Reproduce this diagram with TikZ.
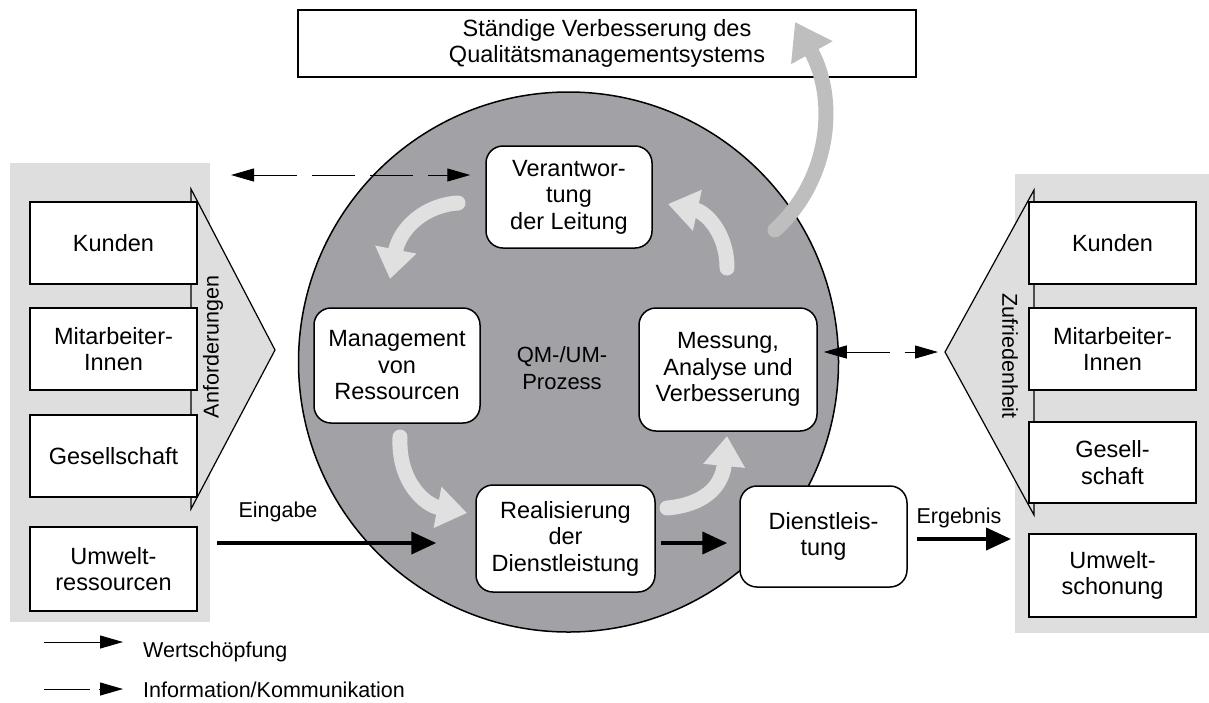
\documentclass[tikz,border=0pt]{standalone}
\usepackage{fontspec}
\setmainfont{Liberation Sans}
\usetikzlibrary{arrows.meta}

\definecolor{panel}{RGB}{222,222,222}
\definecolor{proz}{RGB}{162,161,166}
\definecolor{flowgray}{RGB}{224,224,224}
\definecolor{kvpgray}{RGB}{190,190,190}

\begin{document}
\begin{tikzpicture}[x=1pt,y=-1pt,
    font=\fontsize{21.5}{26}\selectfont,
    lbox/.style={draw,fill=white,line width=1.6pt,minimum width=167pt,minimum height=82pt,align=center,inner sep=0pt,font=\fontsize{23.5}{26.5}\selectfont},
    rbox/.style={draw,fill=white,line width=1.5pt,rounded corners=17pt,align=center,inner sep=0pt,font=\fontsize{23.5}{26.5}\selectfont},
    flow/.style={draw=flowgray,line width=15pt,line cap=round,-{Triangle[length=30pt,width=40pt]}},
    wert/.style={line width=4pt,-{Triangle[length=25pt,width=22pt]}},
    info/.style={line width=1pt,dash pattern=on 43pt off 15pt,{Triangle[length=23pt,width=13pt]}-{Triangle[length=23pt,width=13pt]}}
]
    \useasboundingbox (0,0) rectangle (1209,702);

    % Umfeld links und rechts
    \fill[panel] (10,163) rectangle (210,622);
    \fill[panel] (1015,174) rectangle (1209,633);
    \draw[fill=panel,line width=1.2pt] (191,189) -- (275,350) -- (191,509) -- cycle;
    \draw[fill=panel,line width=1.2pt] (1034,190) -- (945,352) -- (1034,515) -- cycle;
    \coordinate (zufTip) at (945,352);
    \node[rotate=90] (anf) at (213,347) {Anforderungen};
    \node[rotate=-90] (zuf) at (1010,356) {Zufriedenheit};

    \node[lbox] (kundenL) at (113.5,243) {Kunden};
    \node[lbox] (mitarbL) at (113.5,349) {Mitarbeiter-\\Innen};
    \node[lbox] (gesL) at (113.5,456) {Gesellschaft};
    \node[lbox,minimum height=84pt] (umweltL) at (113.5,569) {Umwelt-\\ressourcen};

    \node[lbox] (kundenR) at (1112.5,243) {Kunden};
    \node[lbox] (mitarbR) at (1112.5,349) {Mitarbeiter-\\Innen};
    \node[lbox,minimum height=81pt] (gesR) at (1112.5,462.5) {Gesell-\\schaft};
    \node[lbox,minimum height=83pt] (umweltR) at (1112.5,575.5) {Umwelt-\\schonung};

    % Prozess
    \node[circle,draw,fill=proz,line width=1.5pt,minimum size=540pt,inner sep=0pt] (qm) at (568.5,362) {};
    \node[align=center,font=\fontsize{22}{27}\selectfont] (qmtext) at (562,368) {QM-/UM-\\Prozess};

    \node[lbox,line width=1.5pt,minimum width=618pt,minimum height=67pt,font=\fontsize{23.5}{25.5}\selectfont] (kvp) at (607,43.5) {Ständige Verbesserung des\\Qualitätsmanagementsystems};

    \node[rbox,minimum width=166pt,minimum height=102pt] (verant) at (569,197) {Verantwor-\\tung\\der Leitung};
    \node[rbox,minimum width=166pt,minimum height=115pt] (mgmt) at (397,365.5) {Management\\von\\Ressourcen};
    \node[rbox,minimum width=178pt,minimum height=123pt] (mess) at (728,369.5) {Messung,\\Analyse und\\Verbesserung};
    \node[rbox,minimum width=179pt,minimum height=107pt] (real) at (565.5,538.5) {Realisierung\\der\\Dienstleistung};
    \node[rbox,minimum width=167pt,minimum height=101pt] (dienst) at (823.5,536.5) {Dienstleis-\\tung};

    % Kreislauf
    \draw[flow] (458,203) .. controls (425,205) and (400,228) .. (390,279);
    \draw[flow] (400,437) .. controls (398,482) and (425,505) .. (467,513);
    \draw[flow] (667,508) .. controls (702,505) and (722,488) .. (727,436);
    \draw[flow] (727,268) .. controls (727,232) and (705,212) .. (668,204);
    \draw[flow,draw=kvpgray,-{Triangle[length=35pt,width=45pt]}] (775,230) .. controls (830,180) and (838,100) .. (795,22);

    % Wertschoepfung
    \coordinate (ein) at (217,543);
    \draw[wert,shorten >=39pt] (ein) -- (real.west |- ein);
    \node (eing) at (278,512) {Eingabe};
    \draw[wert,shorten <=5pt,shorten >=12pt] (real.east |- ein) -- (dienst.west |- ein);
    \coordinate (erg) at (1011,539);
    \draw[wert,shorten <=9pt] (dienst.east |- erg) -- (erg);
    \node (ergl) at (959,518) {Ergebnis};

    % Information
    \coordinate (infoL) at (231,175);
    \draw[info,shorten >=15pt] (infoL) -- (verant.west |- infoL);
    \draw[info,shorten <=6pt,shorten >=7pt] (mess.east |- zufTip) -- (zufTip);

    % Legende
    \coordinate (lg1) at (44,642);
    \draw[line width=1pt,-{Triangle[length=23pt,width=13pt]}] (lg1) -- ++(79,0);
    \node[anchor=west,inner sep=0pt] (lgw) at (143,652) {Wertschöpfung};
    \coordinate (lg2) at (44,689);
    \draw[line width=1pt] (lg2) -- ++(46,0);
    \draw[line width=1pt,-{Triangle[length=23pt,width=13pt]}] (99,689) -- (123,689);
    \node[anchor=west,inner sep=0pt] (lgi) at (143,690) {Information/Kommunikation};
\end{tikzpicture}
\end{document}
